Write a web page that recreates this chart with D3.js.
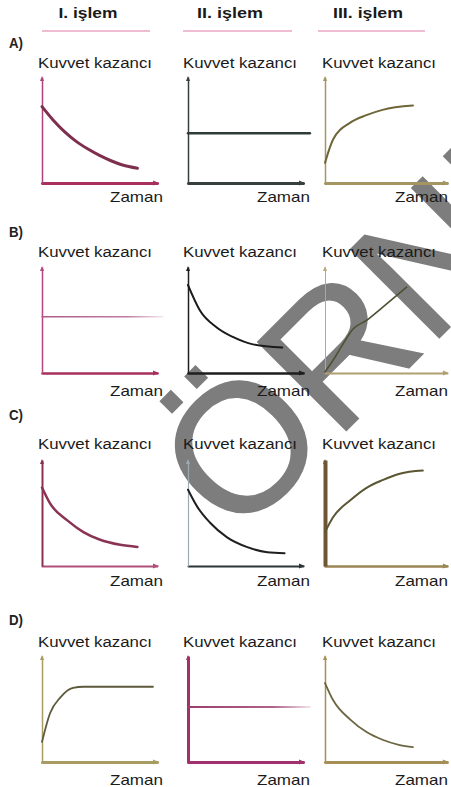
<!DOCTYPE html>
<html><head><meta charset="utf-8">
<script src="https://cdn.jsdelivr.net/npm/d3@7"></script>
<style>body{margin:0;background:#fff}svg{display:block}</style>
</head><body><div id="c"></div>
<script>
// ---- data ----
const processes = ["I. işlem", "II. işlem", "III. işlem"];
const options = ["A)", "B)", "C)", "D)"];
const yLabel = "Kuvvet kazancı";
const xLabel = "Zaman";
const watermark = "ÖRNEK";

// A) row
const timeA1 = [0, 1, 2, 3, 4, 5, 6, 7, 8.3];
const forceA1 = [7.2, 5.9, 4.8, 3.9, 3.2, 2.6, 2.1, 1.7, 1.4];
const timeA2 = [0, 10.6];
const forceA2 = [4.7, 4.7];
const timeA3 = [0, 0.7, 2.2, 3.6, 5.0, 7.65];
const forceA3 = [1.9, 4.1, 5.7, 6.4, 6.9, 7.3];
// B) row
const timeB1 = [0, 10.5];
const forceB1 = [5.3, 5.3];
const timeB2 = [0, 1.04, 2.5, 3.9, 5.65, 8.2];
const forceB2 = [8.3, 5.9, 4.3, 3.4, 2.7, 2.4];
const timeB3 = [0, 0.7, 1.6, 2.4, 3.65, 5.0, 7.1];
const forceB3 = [0.1, 1.2, 2.8, 4.1, 5.0, 6.2, 8.1];
// C) row
const timeC1 = [0, 0.7, 2.2, 3.6, 5.0, 6.8, 8.3];
const forceC1 = [7.4, 5.9, 4.3, 3.2, 2.5, 2.0, 1.8];
const timeC2 = [0, 0.8, 1.9, 3.4, 5.1, 6.9, 8.4];
const forceC2 = [7.2, 5.6, 4.1, 2.7, 1.8, 1.3, 1.2];
const timeC3 = [0, 0.7, 2.2, 3.65, 5.0, 6.5, 8.5];
const forceC3 = [3.2, 4.6, 6.2, 7.4, 8.1, 8.7, 9.0];
// D) row
const timeD1 = [0, 0.7, 1.6, 2.7, 3.6, 9.65];
const forceD1 = [1.9, 4.6, 6.1, 7.0, 7.1, 7.1];
const timeD2 = [0, 10.6];
const forceD2 = [5.2, 5.2];
const timeD3 = [0, 0.7, 2.2, 3.65, 5.0, 6.5, 7.65];
const forceD3 = [7.45, 5.85, 4.0, 2.8, 2.1, 1.6, 1.4];

const series = [
  [[timeA1, forceA1], [timeA2, forceA2], [timeA3, forceA3]],
  [[timeB1, forceB1], [timeB2, forceB2], [timeB3, forceB3]],
  [[timeC1, forceC1], [timeC2, forceC2], [timeC3, forceC3]],
  [[timeD1, forceD1], [timeD2, forceD2], [timeD3, forceD3]]
];

// ---- layout / style ----
const W = 451, H = 787;
const colX0 = [42, 188, 325];
const axisEnd = [10, 10, 10.6];
const rowBase = [183, 373, 566, 762];
const rowLabelY = [48, 237, 420, 625];
const yLabelY = [68, 257, 449, 647];
const xLabelY = [202, 396, 586, 785];
const yLabelX = [38, 183, 322];
const xLabelEnd = [163, 310, 448];
const headerX = [88, 230, 368];
const headerW = [59, 66, 70];
const underline = [[42, 150], [183, 292], [318, 425]];

// per panel: [yAxisColor, yAxisW, xAxisColor, xAxisW, lineColor, lineW, fade]
const styles = [
  [["#b0407a",1.5,"#a8305f",3,"#7e2f4e",3,false],["#37403c",1.5,"#37403c",3,"#2f3b37",2.5,false],["#a49660",1.5,"#a49660",3,"#6e6638",2,false]],
  [["#b5467e",1.5,"#a8305f",2.5,"#b05a88",1.5,true],["#1e1e1e",1.5,"#1e1e1e",2.5,"#1a1a1a",2,false],["#b8aa78",1,"#b0a070",2,"#4d5030",1.6,false]],
  [["#8c3050",2,"#b0507a",2,"#8a3355",2.5,false],["#9cabb4",1.2,"#2b3535",2,"#1f1f1f",2,false],["#6e5634",4,"#9a8656",2.5,"#5a5532",2,false]],
  [["#a99c62",1.5,"#a99c62",3,"#5c5a3a",1.8,false],["#a2306c",3,"#a2306c",3,"#9b3d6d",2,true],["#a68f55",1.5,"#a68f55",3,"#6b6541",1.8,false]]
];
const FONT = "'Liberation Sans', Arial, Helvetica, sans-serif";

const svg = d3.select("#c").append("svg").attr("width", W).attr("height", H)
  .style("font-family", FONT);
const defs = svg.append("defs");

// watermark (behind)
svg.append("text")
  .attr("transform", "translate(240,445) rotate(-45)")
  .attr("x", -71).attr("y", 65)
  .attr("font-size", 182)
  .attr("fill", "#7d7d7d")
  .attr("stroke", "#7d7d7d").attr("stroke-width", 1.5)
  .text(watermark);

// headers
processes.forEach((p, i) => {
  svg.append("text").attr("x", headerX[i]).attr("y", 18)
    .attr("text-anchor", "middle").attr("font-weight", "bold")
    .attr("font-size", 15).attr("fill", "#1a1a1a")
    .attr("textLength", headerW[i]).attr("lengthAdjust", "spacingAndGlyphs")
    .text(p);
  svg.append("line").attr("x1", underline[i][0]).attr("x2", underline[i][1])
    .attr("y1", 31).attr("y2", 31).attr("stroke", "#eaa6c6").attr("stroke-width", 1.5);
});

options.forEach((opt, r) => {
  svg.append("text").attr("x", 9).attr("y", rowLabelY[r])
    .attr("font-size", 14).attr("font-weight", "bold").attr("fill", "#222")
    .attr("textLength", 14).attr("lengthAdjust", "spacingAndGlyphs")
    .text(opt);

  for (let c = 0; c < 3; c++) {
    const st = styles[r][c];
    const base = rowBase[r];
    const x = d3.scaleLinear().domain([0, 10]).range([colX0[c], colX0[c] + 115]);
    const y = d3.scaleLinear().domain([0, 10]).range([base, base - 106]);
    const g = svg.append("g");

    // labels
    g.append("text").attr("x", yLabelX[c]).attr("y", yLabelY[r])
      .attr("font-size", 15.5).attr("fill", "#1a1a1a")
      .attr("textLength", 114).attr("lengthAdjust", "spacingAndGlyphs")
      .text(yLabel);
    g.append("text").attr("x", xLabelEnd[c]).attr("y", xLabelY[r])
      .attr("text-anchor", "end")
      .attr("font-size", 15).attr("fill", "#1a1a1a")
      .attr("textLength", 53).attr("lengthAdjust", "spacingAndGlyphs")
      .text(xLabel);

    // axes through d3 axis generators (no ticks)
    const xa = x.copy().domain([0, axisEnd[c]]).range([x(0), x(axisEnd[c])]);
    const gx = g.append("g").attr("transform", `translate(0,${base})`)
      .call(d3.axisBottom(xa).tickValues([]).tickSizeOuter(0));
    gx.select(".domain").attr("stroke", st[2]).attr("stroke-width", st[3]).attr("stroke-linecap", "round");
    const gy = g.append("g").attr("transform", `translate(${x(0)},0)`)
      .call(d3.axisLeft(y).tickValues([]).tickSizeOuter(0));
    gy.select(".domain").attr("stroke", st[0]).attr("stroke-width", st[1]);
    // small arrow heads
    const yt = y(10);
    g.append("path")
      .attr("d", `M${x(0) - 2},${yt + 4} L${x(0)},${yt - 1} L${x(0) + 2},${yt + 4} Z`)
      .attr("fill", st[0]);
    const xe = xa(axisEnd[c]);
    g.append("path")
      .attr("d", `M${xe - 4},${base - 2.5} L${xe + 2},${base} L${xe - 4},${base + 2.5} Z`)
      .attr("fill", st[2]);

    // series
    const [tt, ff] = series[r][c];
    const pts = tt.map((t, i) => [t, ff[i]]);
    const line = d3.line().x(d => x(d[0])).y(d => y(d[1])).curve(d3.curveMonotoneX);
    let stroke = st[4];
    if (st[6]) {
      const id = `fade${r}${c}`;
      const gr = defs.append("linearGradient").attr("id", id)
        .attr("gradientUnits", "userSpaceOnUse")
        .attr("x1", x(tt[0])).attr("x2", x(tt[tt.length - 1])).attr("y1", 0).attr("y2", 0);
      gr.append("stop").attr("offset", "0").attr("stop-color", st[4]);
      gr.append("stop").attr("offset", "0.7").attr("stop-color", st[4]).attr("stop-opacity", 0.8);
      gr.append("stop").attr("offset", "1").attr("stop-color", st[4]).attr("stop-opacity", 0.15);
      stroke = `url(#${id})`;
    }
    g.append("path").datum(pts).attr("d", line)
      .attr("fill", "none").attr("stroke", stroke).attr("stroke-width", st[5])
      .attr("stroke-linecap", "round");
  }
});
</script></body></html>
